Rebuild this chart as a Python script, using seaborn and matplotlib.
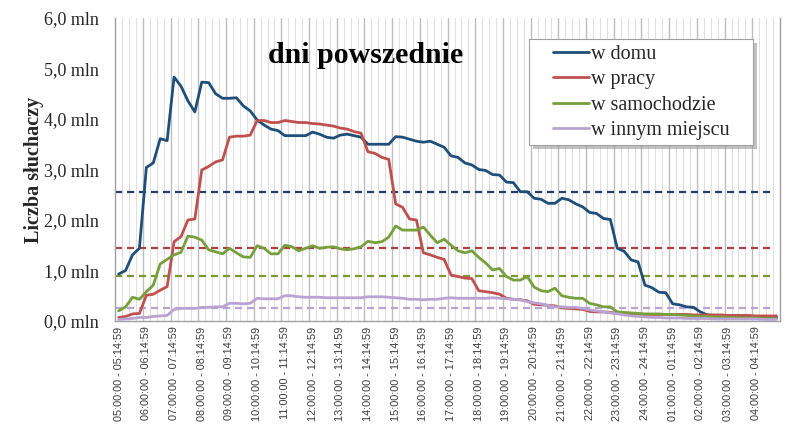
import matplotlib
matplotlib.use('Agg')

import numpy as np
import pandas as pd
import seaborn as sns
import matplotlib.pyplot as plt
from matplotlib.patches import Rectangle

# --- dane: liczba słuchaczy (mln) w kwadransach 05:00 - 04:59 ---
w_domu = [
    0.93, 1.00, 1.31, 1.44, 3.04, 3.13, 3.61, 3.57, 4.83, 4.65, 4.36, 4.14, 4.73, 4.72, 4.50, 4.41, 4.41, 4.42, 4.26, 4.16,
    3.98, 3.88, 3.80, 3.77, 3.67, 3.67, 3.67, 3.67, 3.74, 3.70, 3.64, 3.62, 3.68, 3.70, 3.67, 3.64, 3.50, 3.50, 3.50, 3.50,
    3.65, 3.64, 3.60, 3.56, 3.54, 3.56, 3.50, 3.44, 3.27, 3.24, 3.13, 3.09, 3.00, 2.98, 2.90, 2.89, 2.75, 2.74, 2.56, 2.56,
    2.43, 2.41, 2.33, 2.33, 2.43, 2.40, 2.32, 2.26, 2.15, 2.13, 2.03, 2.01, 1.44, 1.38, 1.21, 1.17, 0.71, 0.66, 0.57, 0.56,
    0.34, 0.32, 0.28, 0.27, 0.18, 0.12, 0.11, 0.11, 0.10, 0.10, 0.09, 0.09, 0.08, 0.08, 0.08, 0.07,
]
w_pracy = [
    0.07, 0.09, 0.14, 0.15, 0.51, 0.53, 0.61, 0.68, 1.57, 1.67, 2.00, 2.02, 2.99, 3.06, 3.15, 3.19, 3.64, 3.66, 3.66, 3.68,
    3.97, 3.97, 3.93, 3.93, 3.97, 3.95, 3.93, 3.93, 3.91, 3.90, 3.88, 3.86, 3.82, 3.80, 3.75, 3.72, 3.35, 3.32, 3.24, 3.20,
    2.32, 2.25, 2.02, 2.00, 1.35, 1.31, 1.26, 1.22, 0.91, 0.88, 0.85, 0.84, 0.60, 0.58, 0.56, 0.53, 0.45, 0.43, 0.42, 0.40,
    0.33, 0.32, 0.31, 0.30, 0.26, 0.25, 0.24, 0.23, 0.19, 0.18, 0.18, 0.17, 0.15, 0.15, 0.14, 0.14, 0.13, 0.13, 0.13, 0.13,
    0.13, 0.13, 0.13, 0.12, 0.12, 0.12, 0.12, 0.12, 0.11, 0.11, 0.11, 0.11, 0.10, 0.10, 0.10, 0.10,
]
w_samochodzie = [
    0.20, 0.28, 0.47, 0.43, 0.58, 0.71, 1.13, 1.22, 1.31, 1.36, 1.68, 1.66, 1.60, 1.41, 1.37, 1.33, 1.44, 1.35, 1.27, 1.26,
    1.49, 1.44, 1.33, 1.33, 1.50, 1.47, 1.39, 1.44, 1.49, 1.44, 1.46, 1.47, 1.43, 1.41, 1.43, 1.47, 1.58, 1.55, 1.57, 1.66,
    1.88, 1.80, 1.80, 1.80, 1.86, 1.70, 1.55, 1.62, 1.50, 1.39, 1.35, 1.39, 1.26, 1.15, 1.01, 1.04, 0.88, 0.81, 0.81, 0.88,
    0.67, 0.60, 0.58, 0.65, 0.50, 0.47, 0.45, 0.45, 0.35, 0.32, 0.28, 0.28, 0.18, 0.17, 0.16, 0.15, 0.14, 0.14, 0.14, 0.13,
    0.13, 0.12, 0.11, 0.10, 0.09, 0.09, 0.08, 0.08, 0.07, 0.07, 0.06, 0.06, 0.06, 0.05, 0.05, 0.05,
]
w_innym = [
    0.03, 0.04, 0.05, 0.07, 0.07, 0.09, 0.10, 0.11, 0.23, 0.25, 0.25, 0.25, 0.27, 0.27, 0.28, 0.28, 0.35, 0.35, 0.34, 0.35,
    0.45, 0.44, 0.44, 0.44, 0.50, 0.50, 0.48, 0.47, 0.47, 0.47, 0.46, 0.46, 0.46, 0.46, 0.46, 0.46, 0.48, 0.48, 0.48, 0.47,
    0.46, 0.45, 0.43, 0.43, 0.42, 0.43, 0.43, 0.45, 0.46, 0.45, 0.45, 0.45, 0.45, 0.45, 0.46, 0.45, 0.44, 0.43, 0.42, 0.38,
    0.36, 0.34, 0.31, 0.28, 0.28, 0.27, 0.27, 0.25, 0.22, 0.20, 0.18, 0.16, 0.14, 0.12, 0.10, 0.09, 0.08, 0.07, 0.07, 0.06,
    0.06, 0.06, 0.05, 0.05, 0.05, 0.05, 0.04, 0.04, 0.04, 0.04, 0.04, 0.04, 0.04, 0.03, 0.03, 0.03,
]

series_names = ['w domu', 'w pracy', 'w samochodzie', 'w innym miejscu']
series_values = [w_domu, w_pracy, w_samochodzie, w_innym]
series_colors = ['#1F4E79', '#C0504D', '#77A03C', '#B9A3D3']
mean_values = [2.56, 1.45, 0.89, 0.26]
mean_colors = ['#1F3F6A', '#B04040', '#7A9A30', '#B9A3D3']

tick_labels = [
    '05:00:00 - 05:14:59', '06:00:00 - 06:14:59', '07:00:00 - 07:14:59', '08:00:00 - 08:14:59',
    '09:00:00 - 09:14:59', '10:00:00 - 10:14:59', '11:00:00 - 11:14:59', '12:00:00 - 12:14:59',
    '13:00:00 - 13:14:59', '14:00:00 - 14:14:59', '15:00:00 - 15:14:59', '16:00:00 - 16:14:59',
    '17:00:00 - 17:14:59', '18:00:00 - 18:14:59', '19:00:00 - 19:14:59', '20:00:00 - 20:14:59',
    '21:00:00 - 21:14:59', '22:00:00 - 22:14:59', '23:00:00 - 23:14:59', '24:00:00 - 24:14:59',
    '01:00:00 - 01:14:59', '02:00:00 - 02:14:59', '03:00:00 - 03:14:59', '04:00:00 - 04:14:59',
]
y_ticks = [0, 1, 2, 3, 4, 5, 6]
y_labels = ['0,0 mln', '1,0 mln', '2,0 mln', '3,0 mln', '4,0 mln', '5,0 mln', '6,0 mln']

# --- tabela long-format dla seaborn ---
n_slots = len(w_domu)
rows = []
for name, vals in zip(series_names, series_values):
    for i, v in enumerate(vals):
        rows.append({'slot': i, 'value': v, 'series': name})
df = pd.DataFrame(rows)

sns.set_style('white')
serif = ['Liberation Serif', 'DejaVu Serif']
sans = ['Liberation Sans', 'DejaVu Sans']

fig = plt.figure(figsize=(8, 4.43), dpi=100)
ax = fig.add_axes([0.144, 0.2754, 0.831, 0.684])

# pionowe linie siatki: co kwadrans jasne, co godzinę ciemniejsze
for b in range(1, n_slots):
    x = b - 0.5
    if b % 4 == 0:
        ax.axvline(x, color='#BDBDBD', lw=1.0, zorder=0)
    else:
        ax.axvline(x, color='#E0E0E0', lw=0.8, zorder=0)

# linie średnich (przerywane)
for m, c in zip(mean_values, mean_colors):
    ax.axhline(m, xmax=0.992, color=c, lw=1.6, ls=(0, (3.2, 2.2)), zorder=1)

sns.lineplot(data=df, x='slot', y='value', hue='series', hue_order=series_names,
             palette=series_colors, linewidth=2.0, ax=ax, zorder=3)

ax.set_xlim(-0.5, n_slots - 0.5)
ax.set_ylim(0, 6)
ax.set_yticks(y_ticks)
ax.set_yticklabels(y_labels, family=serif, fontsize=13)
ax.set_xticks(np.arange(0, n_slots, 4))
ax.set_xticklabels(tick_labels, rotation=90, family=sans, fontsize=7.8, color='#3A3A3A')
ax.set_xticks(np.arange(-0.5, n_slots, 4), minor=True)
ax.tick_params(axis='x', which='major', length=0, pad=4)
ax.tick_params(axis='x', which='minor', length=76, width=0.8, color='#CFCFCF', direction='out')
ax.tick_params(axis='y', length=4, width=0.8, color='#A0A0A0', direction='out', pad=8)
ax.set_xlabel('')
ax.set_ylabel('Liczba słuchaczy', family=serif, fontsize=14.5, fontweight='bold', labelpad=0)

for side in ['left', 'bottom', 'right']:
    ax.spines[side].set_color('#A0A0A0')
    ax.spines[side].set_linewidth(1.0)
ax.spines['top'].set_visible(False)

ax.text(0.377, 0.875, 'dni powszednie', transform=ax.transAxes, ha='center', va='center',
        family=serif, fontsize=21.5, fontweight='bold', color='black')

# ramka legendy z cieniem
x0, x1 = 0.6226, 0.959
y0, y1 = 0.580, 0.9307
shadow = Rectangle((x0 + 0.006, y0 - 0.012), x1 - x0, y1 - y0, transform=ax.transAxes,
                   facecolor='#9A9A9A', edgecolor='none', alpha=0.6, zorder=4)
box = Rectangle((x0, y0), x1 - x0, y1 - y0, transform=ax.transAxes,
                facecolor='white', edgecolor='#A0A0A0', lw=0.8, zorder=4.5)
ax.add_patch(shadow)
ax.add_patch(box)

handles, labels = ax.get_legend_handles_labels()
leg = ax.legend(handles, labels, loc='upper left', bbox_to_anchor=(0.659, 0.912),
                prop={'family': serif, 'size': 14.5}, frameon=False,
                handlelength=1.75, handletextpad=0.1, labelspacing=0.32,
                borderpad=0, borderaxespad=0)
leg.set_zorder(5)

fig.savefig('out.png', dpi=100)
